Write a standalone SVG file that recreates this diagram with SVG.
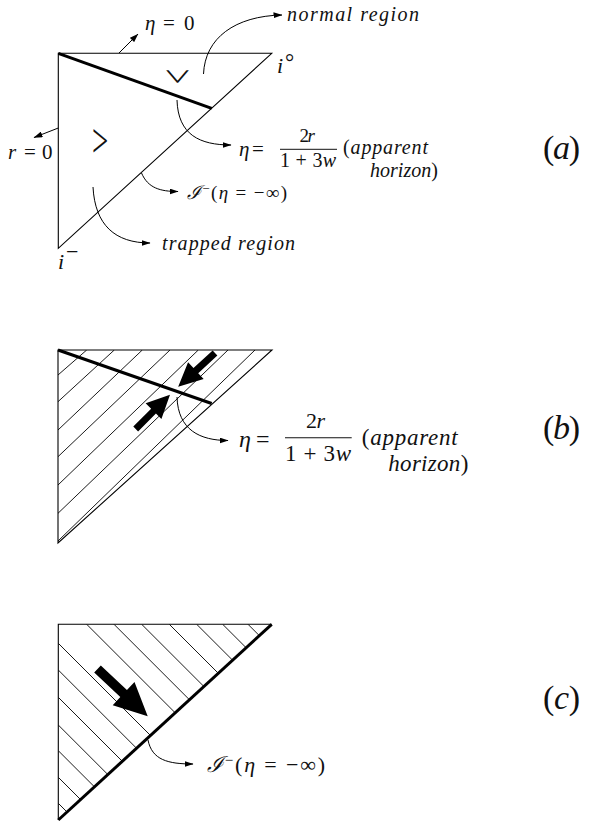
<svg xmlns="http://www.w3.org/2000/svg" width="591" height="823" viewBox="0 0 591 823">
<style>
.edge{stroke:#000;stroke-width:1.1;fill:none}
.thick{stroke:#000;stroke-width:3;fill:none}
.hatch{stroke:#000;stroke-width:0.9;fill:none}
.conn{stroke:#000;stroke-width:1;fill:none;marker-end:url(#ah)}
.t{font-family:"Liberation Serif","DejaVu Serif",serif;fill:#111}
.i{font-style:italic}
.fat{fill:#000}
</style>
<defs>
<marker id="ah" viewBox="0 0 9 6" refX="8.5" refY="3" markerWidth="9" markerHeight="6" markerUnits="userSpaceOnUse" orient="auto"><path d="M0,0 L9,3 L0,6 Z" fill="#000"/></marker>
<path id="fat" d="M0,-3.5 L26,-3.5 L26,-11.5 L50,0 L26,11.5 L26,3.5 L0,3.5 Z"/>
<clipPath id="clipB"><path d="M58,350 L272,350 L58,543 Z"/></clipPath>
<clipPath id="clipC"><path d="M58.3,624.3 L271.7,624.3 L58.3,820 Z"/></clipPath>
</defs>
<rect width="591" height="823" fill="#fff"/>

<!-- Panel (a) -->
<g id="diagram-a">
<path class="edge" d="M58.3,53.3 L271.7,53.3 L58.3,248.3 Z"/>
<path class="thick" d="M58.3,53.3 L211.7,108.3"/>
<text class="t" transform="translate(174,76.5) rotate(90) scale(0.85,1.45)" x="0" y="8" font-size="32" text-anchor="middle">&gt;</text>
<text class="t" transform="translate(100,145) scale(0.9,1.5)" x="0" y="8" font-size="32" text-anchor="middle">&gt;</text>
</g>
<g id="label-eta0"><text class="t" font-size="21" y="30"><tspan class="i" x="145">η</tspan><tspan x="163">=</tspan><tspan x="184">0</tspan></text></g>
<g id="label-r0"><text class="t" font-size="21" y="159"><tspan class="i" x="8">r</tspan><tspan x="24">=</tspan><tspan x="42">0</tspan></text></g>
<g id="label-i0"><text class="t" font-size="22" y="73"><tspan class="i" x="277">i</tspan><tspan x="285" dy="-3" font-size="23">°</tspan></text></g>
<g id="label-iminus"><text class="t" font-size="22" y="269"><tspan class="i" x="58">i</tspan><tspan x="66" y="259" font-size="22">−</tspan></text></g>
<g id="label-normal"><text class="t i" font-size="20" x="287" y="21" textLength="132" lengthAdjust="spacing">normal region</text></g>
<g id="label-horizon-a">
<text class="t" font-size="21" y="156"><tspan class="i" x="239">η</tspan><tspan x="252">=</tspan></text>
<text class="t" font-size="19" x="299.5" y="142" textLength="15.5">2<tspan class="i">r</tspan></text>
<line x1="280" y1="149.3" x2="337" y2="149.3" stroke="#111" stroke-width="1"/>
<text class="t" font-size="20" x="280" y="166.5" textLength="56" lengthAdjust="spacing">1 + 3<tspan class="i">w</tspan></text>
<text class="t" font-size="20" x="343" y="154" textLength="85" lengthAdjust="spacing">(<tspan class="i">apparent</tspan></text>
<text class="t" font-size="20" x="370" y="177" textLength="68" lengthAdjust="spacing"><tspan class="i">horizon</tspan>)</text>
</g>
<g id="label-scri-a"><text class="t" font-size="19" x="187" y="198.5" textLength="100" lengthAdjust="spacing"><tspan class="i">ℐ</tspan><tspan dy="-6" font-size="13">−</tspan><tspan dy="6">(</tspan><tspan class="i">η</tspan> = −∞)</text></g>
<g id="label-trapped"><text class="t i" font-size="20" x="162" y="249.5" textLength="133" lengthAdjust="spacing">trapped region</text></g>
<g id="label-a"><text class="t" font-size="34" x="543" y="159" textLength="37">(<tspan class="i">a</tspan>)</text></g>

<!-- Panel (b) -->
<g id="diagram-b">
<g clip-path="url(#clipB)" class="hatch">
<line x1="86.7" y1="350" x2="58" y2="375"/>
<line x1="114.3" y1="350" x2="58" y2="401.7"/>
<line x1="142.3" y1="350" x2="58" y2="430"/>
<line x1="170" y1="350" x2="58" y2="456.7"/>
<line x1="198.3" y1="350" x2="58" y2="485"/>
<line x1="228" y1="350" x2="58" y2="513.3"/>
<line x1="255" y1="350" x2="58" y2="541"/>
</g>
<path class="edge" d="M58,350 L272,350 L58,543 Z"/>
<path class="thick" d="M58,350 L211.7,403.5"/>
<use href="#fat" class="fat" transform="translate(215,353) rotate(137.4)"/>
<use href="#fat" class="fat" transform="translate(135.7,429) rotate(-45) scale(0.97)"/>
</g>
<g id="label-horizon-b">
<text class="t" font-size="24" y="447"><tspan class="i" x="239">η</tspan><tspan x="256">=</tspan></text>
<text class="t" font-size="22" x="306" y="428" textLength="19">2<tspan class="i">r</tspan></text>
<line x1="285" y1="437.7" x2="351.7" y2="437.7" stroke="#111" stroke-width="1.1"/>
<text class="t" font-size="23" x="285" y="460.5" textLength="66" lengthAdjust="spacing">1 + 3<tspan class="i">w</tspan></text>
<text class="t" font-size="23" x="361.7" y="445" textLength="96" lengthAdjust="spacing">(<tspan class="i">apparent</tspan></text>
<text class="t" font-size="23" x="388.3" y="470.5" textLength="80" lengthAdjust="spacing"><tspan class="i">horizon</tspan>)</text>
</g>
<g id="label-b"><text class="t" font-size="34" x="543" y="439" textLength="37">(<tspan class="i">b</tspan>)</text></g>

<!-- Panel (c) -->
<g id="diagram-c">
<g clip-path="url(#clipC)" class="hatch">
<line x1="86.7" y1="624.3" x2="286.7" y2="824.3"/>
<line x1="114" y1="624.3" x2="314" y2="824.3"/>
<line x1="141.7" y1="624.3" x2="341.7" y2="824.3"/>
<line x1="169.3" y1="624.3" x2="369.3" y2="824.3"/>
<line x1="196.7" y1="624.3" x2="396.7" y2="824.3"/>
<line x1="222.7" y1="624.3" x2="422.7" y2="824.3"/>
<line x1="248" y1="624.3" x2="448" y2="824.3"/>
<line x1="58.3" y1="643.3" x2="258.3" y2="843.3"/>
<line x1="58.3" y1="670" x2="258.3" y2="870"/>
<line x1="58.3" y1="697.3" x2="258.3" y2="897.3"/>
<line x1="58.3" y1="725" x2="258.3" y2="925"/>
<line x1="58.3" y1="750.7" x2="258.3" y2="950.7"/>
<line x1="58.3" y1="777.3" x2="258.3" y2="977.3"/>
<line x1="58.3" y1="803.3" x2="258.3" y2="1003.3"/>
</g>
<path class="edge" d="M271.7,624.3 L58.3,624.3 L58.3,820"/>
<path class="thick" d="M271.7,624.3 L58.3,820"/>
<use href="#fat" class="fat" transform="translate(97.5,669) rotate(43.3) scale(1.38)"/>
</g>
<g id="label-scri-c"><text class="t" font-size="22" x="207" y="772" textLength="118" lengthAdjust="spacing"><tspan class="i">ℐ</tspan><tspan dy="-7" font-size="15">−</tspan><tspan dy="7">(</tspan><tspan class="i">η</tspan> = −∞)</text></g>
<g id="label-c"><text class="t" font-size="34" x="543" y="709" textLength="37">(<tspan class="i">c</tspan>)</text></g>

<!-- Connectors -->
<g id="connectors">
<path class="conn" d="M119,53 L138,34"/>
<path class="conn" d="M58.3,128 L34,137.5"/>
<path class="conn" d="M203.5,74 C205,38 235,16 282,15"/>
<path class="conn" d="M177,100 C178,135 200,145 231,145"/>
<path class="conn" d="M141.5,173 C148,188 160,191.5 178,191.5"/>
<path class="conn" d="M93,187 C95,225 115,243 150,243"/>
<path class="conn" d="M177,397 C178,430 200,440.5 228,440.5"/>
<path class="conn" d="M148,740 C152,760 168,764 193,764"/>
</g>
</svg>
